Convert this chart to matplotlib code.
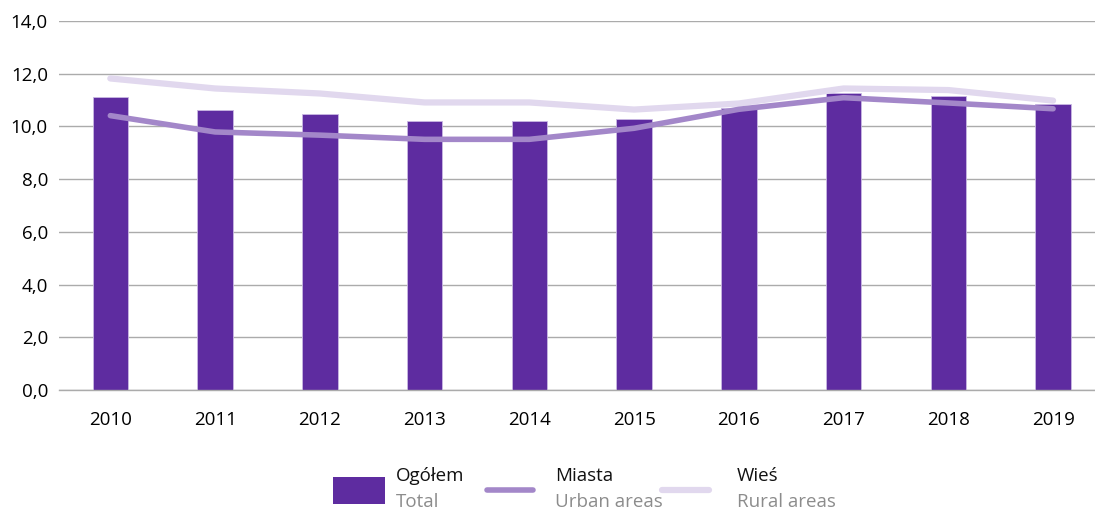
import matplotlib
matplotlib.use("Agg")
import matplotlib.pyplot as plt
from matplotlib.lines import Line2D
from matplotlib.patches import Rectangle

years = ["2010", "2011", "2012", "2013", "2014", "2015", "2016", "2017", "2018", "2019"]
total = [11.12, 10.62, 10.47, 10.20, 10.21, 10.29, 10.71, 11.28, 11.15, 10.85]
urban = [10.41, 9.79, 9.67, 9.51, 9.51, 9.93, 10.65, 11.09, 10.89, 10.67]
rural = [11.82, 11.44, 11.25, 10.91, 10.91, 10.64, 10.87, 11.44, 11.38, 10.98]
yticks = [0, 2, 4, 6, 8, 10, 12, 14]

C_BAR = "#5E2CA0"
C_URB = "#A387C9"
C_RUR = "#E1D8EE"
FS = 13.5

plt.rcParams['font.family'] = ['Open Sans', 'DejaVu Sans']

fig = plt.figure(figsize=(10.95, 5.11), dpi=100)
W, H = 1095, 511
ax = fig.add_axes([59 / W, (H - 390) / H, (W - 59) / W, 369 / H])

x = list(range(len(years)))
ax.bar(x, total, width=0.34, color=C_BAR, edgecolor="#C9B8E3", linewidth=0.6, zorder=2)
ax.plot(x, rural, color=C_RUR, lw=4.5, solid_capstyle="round", solid_joinstyle="round", zorder=3)
ax.plot(x, urban, color=C_URB, lw=4.0, solid_capstyle="round", solid_joinstyle="round", zorder=4)

ax.set_xlim(-0.49, 9.4)
ax.set_ylim(0, 14)
ax.set_yticks(yticks)
ax.set_yticklabels([f"{v:.1f}".replace(".", ",") for v in yticks], fontsize=FS)
ax.set_xticks(x)
ax.set_xticklabels(years, fontsize=FS)
ax.tick_params(axis="x", length=0, pad=15)
ax.tick_params(axis="y", length=0, pad=8)
ax.grid(axis="y", color="#ABABAB", lw=1.0, zorder=0)
ax.set_axisbelow(True)
for s in ["top", "right", "left"]:
    ax.spines[s].set_visible(False)
ax.spines["bottom"].set_color("#ABABAB")
ax.spines["bottom"].set_linewidth(1.0)

# legend (manual, figure coordinates in pixels)
def fx(px):
    return px / W

def fy(py):
    return (H - py) / H

fig.patches.append(Rectangle((fx(333), fy(504)), 52 / W, 27 / H, transform=fig.transFigure,
                             facecolor=C_BAR, edgecolor="none"))
fig.lines.append(Line2D([fx(487), fx(533)], [fy(490), fy(490)], transform=fig.transFigure,
                        color=C_URB, lw=4.0, solid_capstyle="round"))
fig.lines.append(Line2D([fx(662), fx(709)], [fy(490), fy(490)], transform=fig.transFigure,
                        color=C_RUR, lw=4.5, solid_capstyle="round"))
for px, top, bot in [(396, "Ogółem", "Total"), (555, "Miasta", "Urban areas"), (737, "Wieś", "Rural areas")]:
    fig.text(fx(px), fy(476), top, fontsize=FS, color="#111111", va="center", ha="left")
    fig.text(fx(px), fy(502), bot, fontsize=FS, color="#8C8C8C", va="center", ha="left")

fig.savefig("out.png", dpi=100)
